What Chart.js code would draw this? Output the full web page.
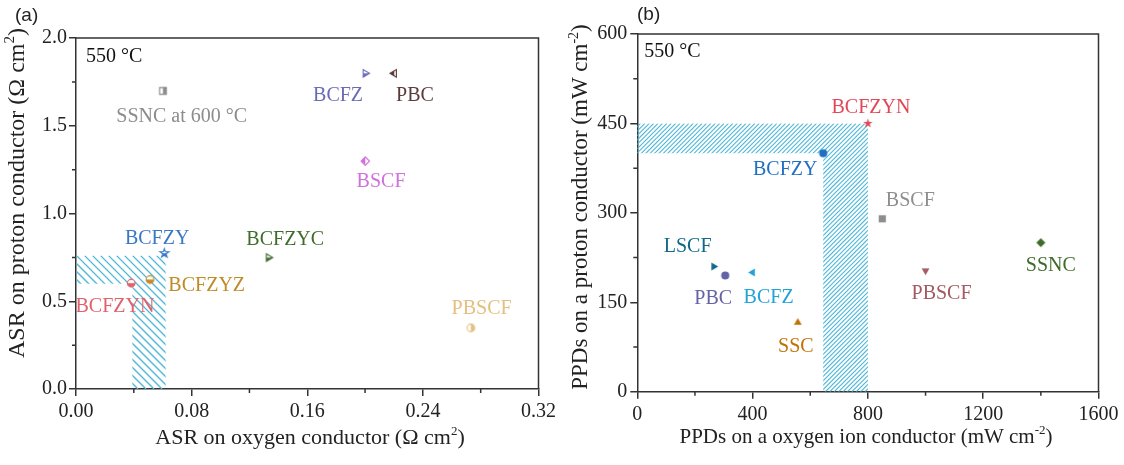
<!DOCTYPE html>
<html>
<head>
<meta charset="utf-8">
<script src="https://cdn.jsdelivr.net/npm/chart.js@4.4.0/dist/chart.umd.min.js"></script>
<style>
  html, body { margin:0; padding:0; background:#fff; }
  #wrap { position:relative; width:1124px; height:465px; overflow:hidden; }
  .panel { position:absolute; top:0; height:465px; }
</style>
</head>
<body>
<div id="wrap">
  <div class="panel" style="left:0;width:560px"><canvas id="chartA" width="560" height="465"></canvas></div>
  <div class="panel" style="left:560px;width:564px"><canvas id="chartB" width="564" height="465"></canvas></div>
</div>
<script>
// ---- panel (a): ASR (ohm cm2) at 550 C
const asrNames  = ['SSNC at 600 °C','BCFZ','PBC','BSCF','BCFZY','BCFZYC','BCFZYN','BCFZYZ','PBSCF'];
const asrOxygen = [0.060, 0.200, 0.220, 0.200, 0.061, 0.133, 0.038, 0.051, 0.273];
const asrProton = [1.70, 1.80, 1.80, 1.30, 0.775, 0.75, 0.605, 0.625, 0.35];
const asrXTicks = [0, 0.08, 0.16, 0.24, 0.32];
const asrYTicks = [0, 0.5, 1.0, 1.5, 2.0];
const asrXMinor = [0.04, 0.12, 0.20, 0.28];
const asrYMinor = [0.25, 0.75, 1.25, 1.75];
// hatched L-shaped target zone (edges)
const asrZoneX = [0, 0.039, 0.062];
const asrZoneY = [0, 0.60, 0.76];

// ---- panel (b): PPDs (mW cm-2) at 550 C
const ppdNames  = ['BCFZYN','BCFZY','BSCF','SSNC','PBSCF','LSCF','PBC','BCFZ','SSC'];
const ppdOxygen = [800, 645, 850, 1400, 1000, 265, 305, 400, 557];
const ppdProton = [450, 400, 290, 250, 203, 210, 195, 200, 116];
const ppdXTicks = [0, 400, 800, 1200, 1600];
const ppdYTicks = [0, 150, 300, 450, 600];
const ppdXMinor = [200, 600, 1000, 1400];
const ppdYMinor = [75, 225, 375, 525];
const ppdZoneX = [0, 645, 800];
const ppdZoneY = [0, 400, 450];

// ---- styles
const serif = "'Liberation Serif', serif";
const axisCol = '#333';
const hatchCol = '#4db8d9';

const asrColors = ['#8c8c8c','#6a6ab8','#5b3a3a','#d070dc','#3a78c4','#3f6b2b','#e0606c','#c08a26','#e4bf80'];
const asrShapes = ['square','triR','triL','diamond','star','triR','circle','circle','circle'];
const asrHalf   = ['right','bottom','left','left','bottom','bottom','bottom','bottom','right'];
const asrOffsets = [[19,26],[-27,23],[21,23],[16,21],[-7,-14],[17,-18],[-16,24],[57,6],[11,-19]];

const ppdColors = ['#e04856','#1f6fc2','#8e8e8e','#3f6b2b','#a35a62','#10698a','#6462a8','#22a3d8','#c07304'];
const ppdShapes = ['star','circle','square','diamond','triD','triR','circle','triL','triU'];
const ppdOffsets = [[3,-16],[-38,17],[28,-18],[10,23],[16,23],[-26,-20],[-12,23],[16,25],[-2,24]];

Chart.defaults.font.family = serif;

function shapePath(g, shape, m, r) {
  const tri = (a0) => {
    for (let i = 0; i < 3; i++) {
      const a = (a0 + i * 120) * Math.PI / 180;
      const px = m + r * Math.cos(a), py = m + r * Math.sin(a);
      i ? g.lineTo(px, py) : g.moveTo(px, py);
    }
    g.closePath();
  };
  if (shape === 'circle') g.arc(m, m, r * 0.9, 0, Math.PI * 2);
  else if (shape === 'square') g.rect(m - r * 0.8, m - r * 0.8, r * 1.6, r * 1.6);
  else if (shape === 'diamond') { g.moveTo(m, m - r); g.lineTo(m + r, m); g.lineTo(m, m + r); g.lineTo(m - r, m); g.closePath(); }
  else if (shape === 'star') {
    for (let i = 0; i < 10; i++) {
      const a = (-90 + i * 36) * Math.PI / 180, rr = i % 2 ? r * 0.42 : r * 1.1;
      const px = m + rr * Math.cos(a), py = m + rr * Math.sin(a);
      i ? g.lineTo(px, py) : g.moveTo(px, py);
    }
    g.closePath();
  }
  else if (shape === 'triU') tri(-90);
  else if (shape === 'triD') tri(90);
  else if (shape === 'triR') tri(0);
  else if (shape === 'triL') tri(180);
}

function marker(shape, size, color, half) {
  const s = size + 6, m = s / 2, r = size / 2;
  const c = document.createElement('canvas');
  c.width = s; c.height = s;
  const g = c.getContext('2d');
  g.beginPath(); shapePath(g, shape, m, r);
  g.fillStyle = half ? '#fff' : color;
  g.fill();
  if (half) {
    g.save();
    g.beginPath();
    if (half === 'left') g.rect(0, 0, m, s);
    else if (half === 'right') g.rect(m, 0, s, s);
    else if (half === 'top') g.rect(0, 0, s, m);
    else g.rect(0, m, s, s);
    g.clip();
    g.beginPath(); shapePath(g, shape, m, r);
    g.fillStyle = color; g.fill();
    g.restore();
    g.beginPath(); shapePath(g, shape, m, r);
    g.lineWidth = 1.1; g.strokeStyle = color; g.stroke();
  }
  return c;
}

// draw text with a raised part, parts = [[text, isSup], ...]
function richText(ctx, parts, cx, cy, size, rot) {
  ctx.save();
  ctx.translate(cx, cy);
  if (rot) ctx.rotate(rot);
  ctx.textBaseline = 'alphabetic';
  ctx.textAlign = 'left';
  ctx.fillStyle = '#222';
  let w = 0;
  parts.forEach(p => { ctx.font = Math.round(p[1] ? size * 0.62 : size) + 'px ' + serif; w += ctx.measureText(p[0]).width; });
  let x = -w / 2;
  const base = size * 0.33;
  parts.forEach(p => {
    ctx.font = Math.round(p[1] ? size * 0.62 : size) + 'px ' + serif;
    ctx.fillText(p[0], x, p[1] ? base - size * 0.42 : base);
    x += ctx.measureText(p[0]).width;
  });
  ctx.restore();
}

function hatch(chart, zx, zy, spacing, dir, lw) {
  const {ctx, scales: {x, y}} = chart;
  const X = zx.map(v => x.getPixelForValue(v));
  const Y = zy.map(v => y.getPixelForValue(v));
  ctx.save();
  ctx.beginPath();
  ctx.moveTo(X[0], Y[2]); ctx.lineTo(X[2], Y[2]); ctx.lineTo(X[2], Y[0]);
  ctx.lineTo(X[1], Y[0]); ctx.lineTo(X[1], Y[1]); ctx.lineTo(X[0], Y[1]);
  ctx.closePath();
  ctx.clip();
  ctx.strokeStyle = hatchCol; ctx.lineWidth = lw;
  ctx.beginPath();
  const h = Y[0] - Y[2];
  for (let k = X[0] - h - 10; k < X[2] + 10; k += spacing) {
    if (dir > 0) { ctx.moveTo(k, Y[0]); ctx.lineTo(k + h, Y[2]); }
    else { ctx.moveTo(k, Y[2]); ctx.lineTo(k + h, Y[0]); }
  }
  ctx.stroke();
  ctx.restore();
}

function frameAndMinor(chart, xm, ym) {
  const {ctx, chartArea: a, scales: {x, y}} = chart;
  ctx.save();
  ctx.strokeStyle = axisCol; ctx.lineWidth = 1.5;
  ctx.beginPath();
  ctx.moveTo(a.left, a.top); ctx.lineTo(a.right, a.top); ctx.lineTo(a.right, a.bottom);
  xm.forEach(v => { const p = x.getPixelForValue(v); ctx.moveTo(p, a.bottom); ctx.lineTo(p, a.bottom + 4); });
  ym.forEach(v => { const p = y.getPixelForValue(v); ctx.moveTo(a.left, p); ctx.lineTo(a.left - 4, p); });
  ctx.stroke();
  ctx.restore();
}

function pointLabels(chart, names, colors, offsets, size) {
  const ctx = chart.ctx;
  const pts = chart.getDatasetMeta(0).data;
  ctx.save();
  ctx.font = size + 'px ' + serif;
  ctx.textAlign = 'center';
  ctx.textBaseline = 'middle';
  pts.forEach((p, i) => {
    ctx.fillStyle = colors[i];
    ctx.fillText(names[i], p.x + offsets[i][0], p.y + offsets[i][1]);
  });
  ctx.restore();
}

function axis(min, max, ticks, fmt, fitSize, horizontal, pad) {
  return {
    type: 'linear', min: min, max: max,
    afterBuildTicks: s => { s.ticks = ticks.map(v => ({value: v})); },
    afterFit: s => { if (horizontal) s.height = fitSize; else s.width = fitSize; },
    ticks: { callback: fmt, autoSkip: false, maxRotation: 0, color: '#222', padding: pad,
             font: { family: serif, size: 20 } },
    grid: { drawOnChartArea: false, drawTicks: true, tickLength: 7, color: axisCol, lineWidth: 1.5 },
    border: { display: true, color: axisCol, width: 1.5 }
  };
}

const baseOpts = {
  responsive: false, animation: false, devicePixelRatio: 1,
  plugins: { legend: { display: false }, tooltip: { enabled: false } }
};

// ---- chart (a)
const asrMarkers = asrNames.map((n, i) => marker(asrShapes[i], 8.5, asrColors[i], asrHalf[i]));
new Chart(document.getElementById('chartA'), {
  type: 'scatter',
  data: { datasets: [{
    data: asrOxygen.map((v, i) => ({x: v, y: asrProton[i]})),
    pointStyle: asrMarkers, pointRadius: 5
  }] },
  options: Object.assign({}, baseOpts, {
    layout: { padding: { left: 0, top: 38, right: 17, bottom: 0 } },
    scales: {
      x: axis(0, 0.32, asrXTicks, v => v.toFixed(2), 76, true, 4),
      y: axis(0, 2.0, asrYTicks, v => v.toFixed(1), 76, false, 2)
    }
  }),
  plugins: [{
    id: 'deco',
    beforeDatasetsDraw: c => hatch(c, asrZoneX, asrZoneY, 8, -1, 1.4),
    afterDatasetsDraw: c => pointLabels(c, asrNames, asrColors, asrOffsets, 20),
    afterDraw: c => {
      frameAndMinor(c, asrXMinor, asrYMinor);
      const ctx = c.ctx;
      ctx.save();
      ctx.fillStyle = '#111'; ctx.font = '20px ' + serif; ctx.textBaseline = 'middle';
      ctx.fillText('550 °C', c.chartArea.left + 10, 57);
      ctx.font = '19px "Liberation Sans", Arial, sans-serif'; ctx.fillStyle = '#222';
      ctx.fillText('(a)', 15, 16);
      ctx.restore();
      richText(ctx, [['ASR on oxygen conductor (Ω cm', 0], ['2', 1], [')', 0]], 310, 437, 21.5, 0);
      richText(ctx, [['ASR on proton conductor (Ω cm', 0], ['2', 1], [')', 0]], 16, 193, 24, -Math.PI / 2);
    }
  }]
});

// ---- chart (b)
const ppdMarkers = ppdNames.map((n, i) => marker(ppdShapes[i], 9, ppdColors[i], null));
new Chart(document.getElementById('chartB'), {
  type: 'scatter',
  data: { datasets: [{
    data: ppdOxygen.map((v, i) => ({x: v, y: ppdProton[i]})),
    pointStyle: ppdMarkers, pointRadius: 5
  }] },
  options: Object.assign({}, baseOpts, {
    layout: { padding: { left: 0, top: 34, right: 25.5, bottom: 0 } },
    scales: {
      x: axis(0, 1600, ppdXTicks, v => String(v), 73.3, true, 4),
      y: axis(0, 600, ppdYTicks, v => String(v), 77.3, false, 3)
    }
  }),
  plugins: [{
    id: 'deco',
    beforeDatasetsDraw: c => hatch(c, ppdZoneX, ppdZoneY, 4.4, 1, 1.1),
    afterDatasetsDraw: c => pointLabels(c, ppdNames, ppdColors, ppdOffsets, 20),
    afterDraw: c => {
      frameAndMinor(c, ppdXMinor, ppdYMinor);
      const ctx = c.ctx;
      ctx.save();
      ctx.fillStyle = '#111'; ctx.font = '20px ' + serif; ctx.textBaseline = 'middle';
      ctx.fillText('550 °C', c.chartArea.left + 7, 52);
      ctx.font = '19px "Liberation Sans", Arial, sans-serif'; ctx.fillStyle = '#222';
      ctx.fillText('(b)', 77, 15);
      ctx.restore();
      richText(ctx, [['PPDs on a oxygen ion conductor (mW cm', 0], ['-2', 1], [')', 0]], 306, 436, 21, 0);
      richText(ctx, [['PPDs on a proton conductor (mW cm', 0], ['-2', 1], [')', 0]], 20, 207, 22.5, -Math.PI / 2);
    }
  }]
});
</script>
</body>
</html>
